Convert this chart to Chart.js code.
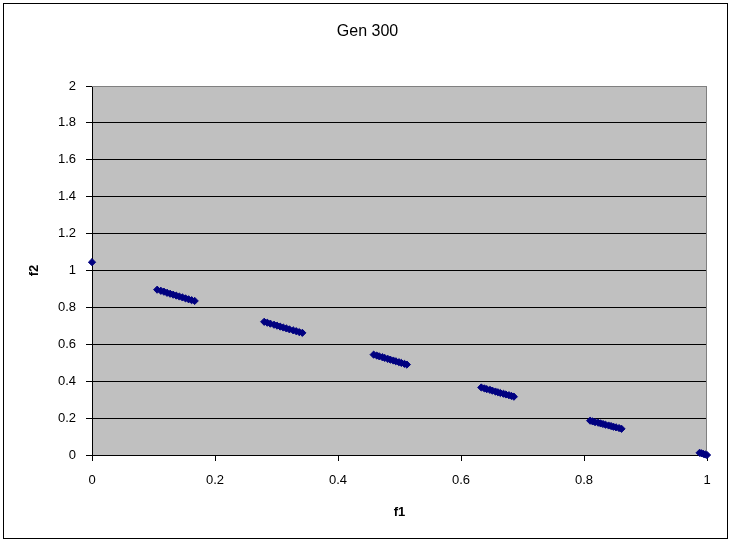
<!DOCTYPE html>
<html>
<head>
<meta charset="utf-8">
<script src="https://cdn.jsdelivr.net/npm/chart.js@4/dist/chart.umd.min.js"></script>
<style>
  html, body { margin: 0; padding: 0; background: #ffffff; }
  #wrap { width: 731px; height: 542px; position: relative; }
</style>
</head>
<body>
<div id="wrap"><canvas id="grafico"></canvas></div>
<script>
// dados (f1, f2) por grupo
const tituloGrafico = "Gen 300";
const f1Valores = [
  0,
  0.106, 0.112, 0.117, 0.122, 0.127, 0.132, 0.137, 0.142, 0.147, 0.152, 0.157, 0.162, 0.167,
  0.280, 0.285, 0.290, 0.296, 0.301, 0.306, 0.311, 0.316, 0.321, 0.327, 0.332, 0.337, 0.342,
  0.458, 0.463, 0.467, 0.472, 0.476, 0.481, 0.485, 0.490, 0.494, 0.499, 0.503, 0.508, 0.512,
  0.633, 0.638, 0.642, 0.647, 0.651, 0.656, 0.660, 0.664, 0.669, 0.673, 0.678, 0.682, 0.686,
  0.810, 0.814, 0.818, 0.823, 0.827, 0.831, 0.835, 0.840, 0.844, 0.848, 0.852, 0.857, 0.861,
  0.988, 0.991, 0.994, 0.997, 1.000
];
const f2Valores = [
  1.045,
  0.896, 0.890, 0.885, 0.879, 0.874, 0.869, 0.864, 0.859, 0.854, 0.849, 0.844, 0.839, 0.835,
  0.722, 0.717, 0.712, 0.706, 0.701, 0.696, 0.691, 0.686, 0.681, 0.676, 0.671, 0.666, 0.662,
  0.544, 0.539, 0.535, 0.530, 0.526, 0.521, 0.517, 0.512, 0.508, 0.503, 0.499, 0.494, 0.490,
  0.366, 0.361, 0.357, 0.353, 0.349, 0.344, 0.340, 0.336, 0.332, 0.328, 0.324, 0.320, 0.316,
  0.186, 0.182, 0.178, 0.175, 0.171, 0.168, 0.164, 0.160, 0.157, 0.153, 0.150, 0.146, 0.142,
  0.012, 0.009, 0.006, 0.003, 0.000
];
const xTickLabels = ["0", "0.2", "0.4", "0.6", "0.8", "1"];
const yTickLabels = ["0", "0.2", "0.4", "0.6", "0.8", "1", "1.2", "1.4", "1.6", "1.8", "2"];

const pontos = f1Valores.map((x, i) => ({ x: x, y: f2Valores[i] }));

// fundo cinza da área do gráfico e moldura externa
const fundoPlugin = {
  id: 'fundo',
  beforeDraw(chart) {
    const { ctx, chartArea: a } = chart;
    ctx.save();
    ctx.fillStyle = '#ffffff';
    ctx.fillRect(0, 0, chart.width, chart.height);
    ctx.fillStyle = '#c0c0c0';
    ctx.fillRect(a.left, a.top, a.right - a.left, a.bottom - a.top);
    ctx.strokeStyle = '#000000';
    ctx.lineWidth = 1;
    ctx.strokeRect(3.5, 3.5, chart.width - 7, chart.height - 7);
    ctx.restore();
  },
  beforeDatasetsDraw(chart) {
    const { ctx, chartArea: a } = chart;
    ctx.save();
    ctx.strokeStyle = '#808080';
    ctx.lineWidth = 1;
    ctx.beginPath();
    ctx.moveTo(a.left, a.top + 0.5);
    ctx.lineTo(a.right - 0.5, a.top + 0.5);
    ctx.lineTo(a.right - 0.5, a.bottom);
    ctx.stroke();
    ctx.restore();
  }
};

const fonteBase = { family: 'Liberation Sans, Arial, sans-serif', size: 13 };

new Chart(document.getElementById('grafico').getContext('2d'), {
  type: 'scatter',
  data: {
    datasets: [{
      data: pontos,
      pointStyle: 'rectRot',
      pointRadius: 3.6,
      pointHoverRadius: 3.6,
      borderWidth: 1,
      backgroundColor: '#000080',
      borderColor: '#000080',
      clip: false
    }]
  },
  options: {
    responsive: true,
    maintainAspectRatio: false,
    animation: false,
    layout: { padding: { left: 28, right: 24, top: 0, bottom: 12 } },
    plugins: {
      legend: { display: false },
      tooltip: { enabled: false },
      title: {
        display: true,
        text: tituloGrafico,
        color: '#000000',
        font: { family: fonteBase.family, size: 16, weight: 'normal' },
        padding: { top: 22.4, bottom: 44.4 }
      }
    },
    scales: {
      x: {
        type: 'linear',
        min: 0,
        max: 1,
        afterFit(scale) { scale.height = 75; },
        ticks: {
          stepSize: 0.2,
          color: '#000000',
          font: fonteBase,
          padding: 12,
          maxRotation: 0,
          callback: function(value, index) { return xTickLabels[index]; }
        },
        grid: { drawOnChartArea: false, drawTicks: true, tickLength: 6, tickColor: '#000000' },
        border: { color: '#000000', width: 1 },
        title: {
          display: true,
          text: 'f1',
          color: '#000000',
          font: { family: fonteBase.family, size: 13, weight: 'bold' },
          padding: { top: 0, bottom: 10 }
        }
      },
      y: {
        type: 'linear',
        min: 0,
        max: 2,
        afterFit(scale) { scale.width = 64; },
        ticks: {
          stepSize: 0.2,
          color: '#000000',
          font: fonteBase,
          padding: 10,
          callback: function(value, index) { return yTickLabels[index]; }
        },
        grid: {
          color: (ctx) => (ctx.tick && ctx.tick.value === 2 ? '#808080' : '#000000'),
          lineWidth: 1,
          drawTicks: true,
          tickLength: 6,
          tickColor: '#000000'
        },
        border: { color: '#000000', width: 1 },
        title: {
          display: true,
          text: 'f2',
          color: '#000000',
          font: { family: fonteBase.family, size: 13, weight: 'bold' },
          padding: { top: -1, bottom: 0 }
        }
      }
    }
  },
  plugins: [fundoPlugin]
});
</script>
</body>
</html>
